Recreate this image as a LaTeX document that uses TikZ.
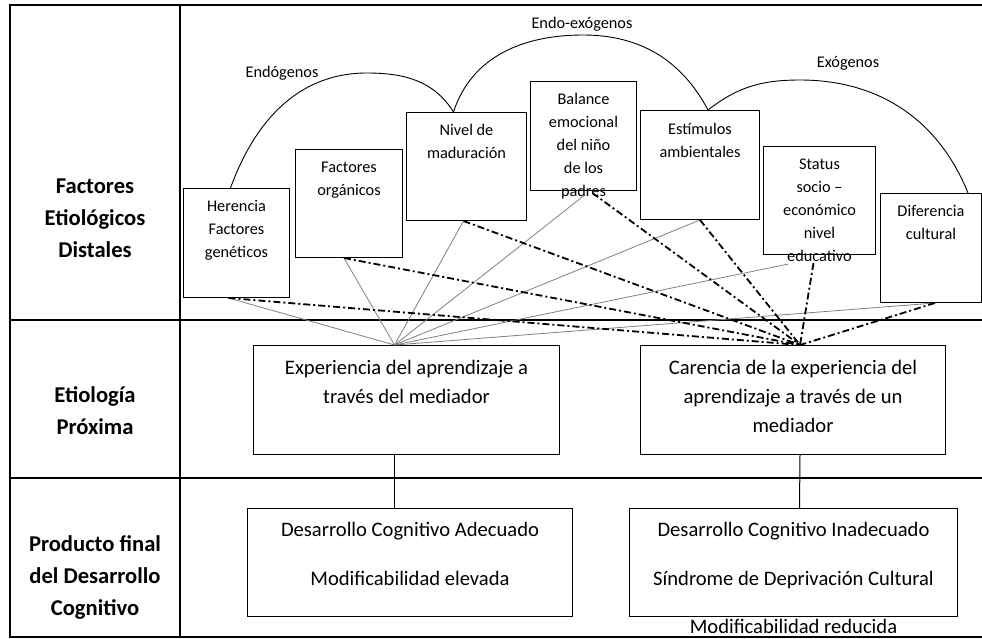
\documentclass[tikz,border=0pt]{standalone}
\usepackage{fontspec}
\setmainfont{Carlito}
\usetikzlibrary{calc}

\begin{document}
\begin{tikzpicture}
    [ x=1pt, y=-1pt
    , box/.style={draw, line width=1pt, minimum width=#1, anchor=north west, inner sep=0pt}
    , fac/.style={align=center, anchor=north, inner sep=0pt, font=\fontsize{16.3}{23}\selectfont}
    , big/.style={align=center, anchor=north, inner sep=0pt, font=\fontsize{20.6}{29}\selectfont}
    , head/.style={align=center, anchor=north, inner sep=0pt, font=\fontsize{22.6}{32}\selectfont\bfseries}
    , grid/.style={line width=1.2pt}
    , arc/.style={line width=0.9pt}
    , thin/.style={draw=black!50, line width=0.8pt}
    , dd/.style={line width=1.8pt, dash pattern=on 7pt off 3pt on 2pt off 3pt}
    ]
    \useasboundingbox (0,0) rectangle (982,638);

    % table
    \draw [grid] (982,5) -- (10,5) -- (10,637) -- (982,637);
    \draw [grid] (180,5) -- (180,637);
    \draw [grid] (10,320) -- (982,320);
    \draw [grid] (10,478) -- (982,478);

    % row headings
    \node [head] (h1) at (95,171) {\strut Factores\\Etiológicos\\Distales};
    \node [head] (h2) at (95,380) {\strut Etiología\\Próxima};
    \node [head] (h3) at (95,529) {\strut Producto final\\del Desarrollo\\Cognitivo};

    % distal factors
    \node [box=106, minimum height=109] (her) at (183,188) {};
    \node [box=107, minimum height=108] (org) at (295,149) {};
    \node [box=120, minimum height=108] (niv) at (406,112) {};
    \node [box=106, minimum height=109] (bal) at (530,81)  {};
    \node [box=119, minimum height=109] (est) at (640,110) {};
    \node [box=112, minimum height=108] (sta) at (763,146) {};
    \node [box=101, minimum height=109] (dif) at (880,193) {};

    \node [fac] (her-t) at ($(her.north)+(0,7.5)$) {\strut Herencia\\Factores\\genéticos};
    \node [fac] (org-t) at ($(org.north)+(0,7.5)$) {\strut Factores\\orgánicos};
    \node [fac] (niv-t) at ($(niv.north)+(0,7.5)$) {\strut Nivel de\\maduración};
    \node [fac] (bal-t) at ($(bal.north)+(0,7.5)$) {\strut Balance\\emocional\\del niño\\de los\\padres};
    \node [fac] (est-t) at ($(est.north)+(0,8)$) {\strut Estímulos\\ambientales};
    \node [fac] (sta-t) at ($(sta.north)+(0,7.5)$) {\strut Status\\socio --\\económico\\nivel\\educativo};
    \node [fac] (dif-t) at ($(dif.north)+(0,7.5)$) {\strut Diferencia\\cultural};

    % groups
    \draw [arc] ([xshift=-6]her.north) to[out=70,in=180] (367,73) to[out=0,in=122] ([xshift=-13]niv.north);
    \draw [arc] ([xshift=-13]niv.north) to[out=72,in=180] (583,35) to[out=0,in=118] ([xshift=8]est.north);
    \draw [arc] ([xshift=8]est.north) to[out=38,in=180] (800,80) to[out=0,in=112] ([xshift=37]dif.north);
    \node [fac, anchor=center] (endo)   at (282,73) {Endógenos};
    \node [fac, anchor=center] (endoex) at (582,24) {Endo-exógenos};
    \node [fac, anchor=center] (exo)    at (848,63) {Exógenos};

    % proximal etiology
    \node [box=306, minimum height=109] (exp) at (253,345) {};
    \node [box=305, minimum height=109] (car) at (640,345) {};
    \node [big] (exp-t) at ($(exp.north)+(0,8.5)$) {\strut Experiencia del aprendizaje a\\través del mediador};
    \node [big] (car-t) at ($(car.north)+(0,8.5)$) {\strut Carencia de la experiencia del\\aprendizaje a través de un\\mediador};

    % final product
    \node [box=325, minimum height=108] (ade) at (247,508) {};
    \node [box=328, minimum height=108] (ina) at (629,508) {};
    \node [big] (ade-t) at ($(ade.north)+(0,7.5)$) {\strut Desarrollo Cognitivo Adecuado\\[20pt]Modificabilidad elevada};
    \node [big] (ina-t) at ($(ina.north)+(0,7.5)$) {\strut Desarrollo Cognitivo Inadecuado\\[20pt]Síndrome de Deprivación Cultural\\[19pt]Modificabilidad reducida};

    \draw [line width=1pt] ([xshift=-12]exp.south) -- ([xshift=-15.5]ade.north);
    \draw [line width=1pt] ([xshift=7]car.south) -- ([xshift=6]ina.north);

    % mediated learning
    \draw [thin] ([xshift=-8]her.south) -- ([xshift=-12]exp.north);
    \draw [thin] ([xshift=-5]org.south) -- ([xshift=-12]exp.north);
    \draw [thin] ([xshift=-3]niv.south) -- ([xshift=-12]exp.north);
    \draw [thin] ([yshift=-5]bal.south) -- ([xshift=-12]exp.north);
    \draw [thin] (est.south) -- ([xshift=-12]exp.north);
    \draw [thin] ([xshift=-31,yshift=-9]sta.south) -- ([xshift=-12]exp.north);
    \draw [thin] ([xshift=4]dif.south) -- ([xshift=-12]exp.north);

    % lack of mediated learning
    \draw [dd] ([xshift=-8]her.south) -- ([xshift=7]car.north);
    \draw [dd] ([xshift=-5]org.south) -- ([xshift=7]car.north);
    \draw [dd] ([xshift=-3]niv.south) -- ([xshift=7]car.north);
    \draw [dd] ([xshift=9,yshift=-2]bal.south) -- ([xshift=7]car.north);
    \draw [dd] (est.south) -- ([xshift=7]car.north);
    \draw [dd] ([xshift=-6,yshift=-8]sta.south) -- ([xshift=7]car.north);
    \draw [dd] ([xshift=4]dif.south) -- ([xshift=7]car.north);
\end{tikzpicture}
\end{document}
